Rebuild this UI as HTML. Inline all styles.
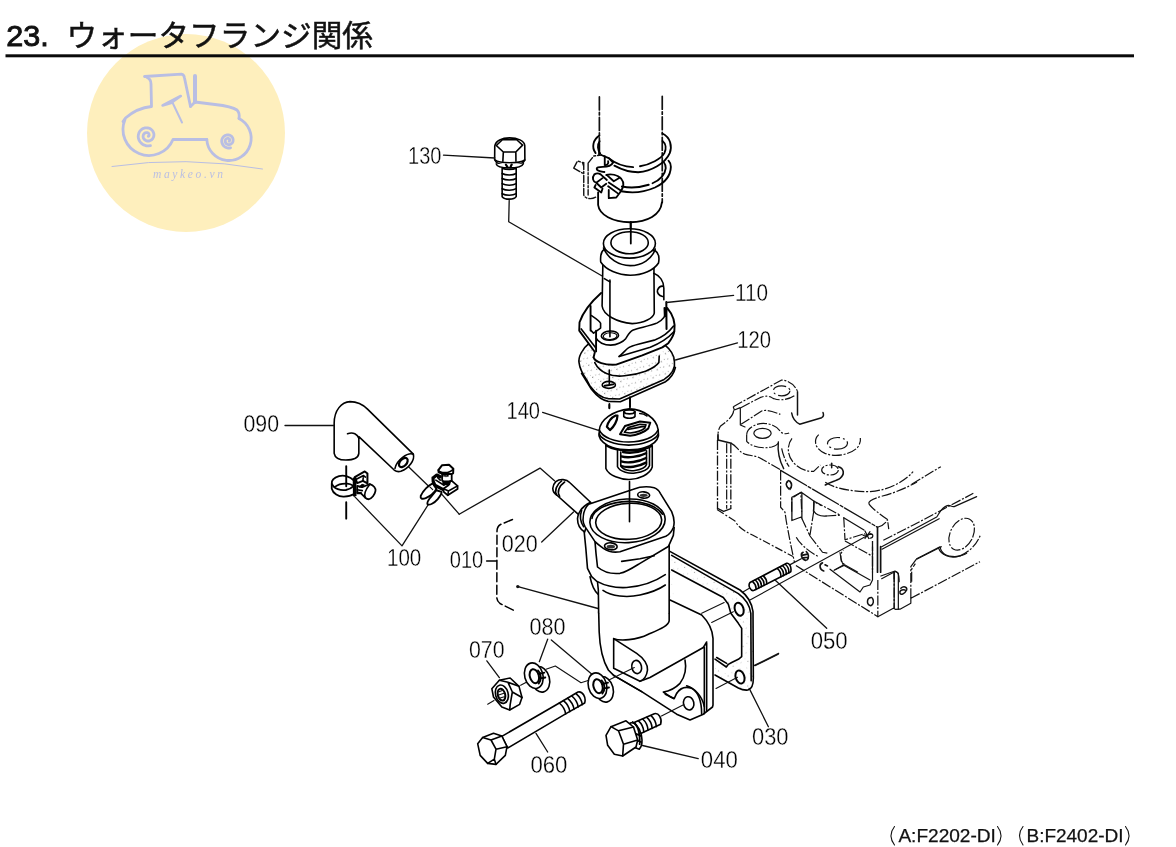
<!DOCTYPE html>
<html lang="ja"><head><meta charset="utf-8"><title>23. ウォータフランジ関係</title>
<style>
html,body{margin:0;padding:0;background:#fff}
body{width:1176px;height:847px;overflow:hidden;position:relative;font-family:"Liberation Sans",sans-serif}
svg{position:absolute;left:0;top:0;display:block;will-change:transform}
text{font-family:"Liberation Sans",sans-serif}
.lb text{font-size:23.5px;fill:#000;stroke:#fff;stroke-width:.3px}
.ld{fill:none;stroke:#111;stroke-width:1.3;stroke-linecap:round;stroke-linejoin:round}
.p{fill:none;stroke:#000;stroke-width:1.6;stroke-linecap:round;stroke-linejoin:round}
.pf{fill:#fff;stroke:#000;stroke-width:1.6;stroke-linecap:round;stroke-linejoin:round}
.t{fill:none;stroke:#111;stroke-width:1.1;stroke-linecap:round;stroke-linejoin:round}
.ph{fill:none;stroke:#111;stroke-width:1.2;stroke-linecap:butt;stroke-linejoin:round;stroke-dasharray:10 1.7 2 1.7}
.phs{fill:none;stroke:#111;stroke-width:1.2;stroke-linecap:round;stroke-linejoin:round}
.z *{vector-effect:non-scaling-stroke}
.w18 .p,.w18 .pf{stroke-width:1.85}
.w18 .t{stroke-width:1.4}
</style></head>
<body>
<svg width="1176" height="847" viewBox="0 0 1176 847" role="img" aria-label="23. ウォータフランジ関係">
<!-- 00_base -->
<rect x="0" y="0" width="1176" height="847" fill="#fff"/>
<!-- watermark -->
<circle cx="186" cy="133" r="99" fill="#FEEFBD"/>
<g fill="none" stroke="#B9BEE3" stroke-width="2.8" stroke-linecap="round" stroke-linejoin="round">
 <path d="M144.5 76.5 L181.5 74.2 Q184 74.5 184.5 78 L190.5 106.5"/>
 <path d="M147 77.5 Q151 79 151 84 L151.5 106.5 Q137 108 125.5 118 L123 121.5"/>
 <path d="M195 76 L195 102" stroke-width="4"/>
 <path d="M190.5 106.5 L195 102 L215 104.5 Q232 106.5 237 110 Q240 113 239 118.5"/>
 <path d="M125 119.5 A26 26 0 1 0 173 139.5 L206.8 139.5"/>
 <path d="M206.8 139.5 A22.2 22.2 0 1 0 239 118.5"/>
 <path d="M162.6 105.5 L180.8 96 L171 103 Z" stroke-width="2.6"/>
 <path d="M172 101.5 L182 122.5" stroke-width="2"/>
 <path d="M148.3 136.3 L148.5 136.2 L148.8 135.9 L149.0 135.7 L149.1 135.3 L149.1 134.9 L149.1 134.5 L148.9 134.0 L148.7 133.6 L148.3 133.2 L147.9 132.9 L147.3 132.7 L146.7 132.6 L146.1 132.6 L145.4 132.8 L144.8 133.1 L144.2 133.6 L143.7 134.2 L143.4 134.9 L143.2 135.6 L143.1 136.5 L143.2 137.4 L143.5 138.2 L144.0 139.0 L144.7 139.8 L145.5 140.3 L146.4 140.8 L147.5 141.0 L148.6 141.0 L149.7 140.8 L150.7 140.3 L151.7 139.7 L152.6 138.8 L153.2 137.7 L153.7 136.5 L153.9 135.3 L153.9 133.9 L153.5 132.6 L152.9 131.3 L152.1 130.2 L151.0 129.2 L149.7 128.4 L148.3 128.0 L146.7 127.8 L145.1 127.9 L143.6 128.3 L142.1 129.1 L140.8 130.1 L139.7 131.4 L138.9 133.0 L138.4 134.7 L138.2 136.5 L138.4 138.3 L139.0 140.0 L139.9 141.7 L141.2 143.2 L142.7 144.4 L144.5 145.2 L146.4 145.8 L148.5 145.9 L150.5 145.6"/>
 <path d="M229.1 141.2 L229.3 141.1 L229.5 140.9 L229.6 140.6 L229.7 140.4 L229.7 140.0 L229.7 139.7 L229.6 139.4 L229.4 139.1 L229.1 138.8 L228.7 138.5 L228.3 138.4 L227.9 138.3 L227.4 138.4 L226.9 138.5 L226.4 138.7 L226.0 139.1 L225.6 139.5 L225.4 140.0 L225.2 140.6 L225.2 141.3 L225.3 141.9 L225.5 142.6 L225.9 143.1 L226.3 143.7 L227.0 144.1 L227.7 144.4 L228.4 144.6 L229.2 144.6 L230.0 144.4 L230.8 144.1 L231.5 143.6 L232.2 142.9 L232.7 142.2 L233.0 141.3 L233.1 140.3 L233.1 139.4 L232.9 138.4 L232.4 137.5 L231.8 136.6 L231.0 135.9 L230.1 135.4 L229.0 135.0 L227.9 134.9 L226.7 135.0 L225.6 135.3 L224.5 135.9 L223.6 136.6 L222.8 137.6 L222.2 138.7 L221.8 139.9 L221.7 141.2 L221.9 142.5 L222.3 143.8 L223.0 145.0 L223.9 146.1 L225.0 146.9 L226.3 147.6 L227.7 148.0 L229.2 148.0 L230.6 147.8"/>
 <path d="M112 166.5 Q185 155.500 262.500 169" stroke-width="1"/>
</g>
<text x="153" y="178" font-family="Liberation Serif, serif" font-style="italic" font-size="11.500" fill="#B9BEE3" textLength="70" lengthAdjust="spacing" style="font-family:'Liberation Serif',serif">maykeo.vn</text>
<!-- title -->
<text x="6.200" y="45.900" font-size="30" fill="#111" stroke="#111" stroke-width=".9" textLength="42.500" lengthAdjust="spacingAndGlyphs">23.</text>
<text x="66.500" y="45.600" font-size="30" fill="#111" stroke="#111" stroke-width=".5" textLength="306.500" lengthAdjust="spacingAndGlyphs" style="font-family:'Liberation Sans','Noto Sans CJK JP',sans-serif">ウォータフランジ関係</text>
<rect x="5.500" y="54.300" width="1128.500" height="3" fill="#0a0a0a"/>
<!-- bottom text -->
<g fill="#111" stroke="#111" stroke-width=".25">
<text x="898.400" y="841.800" font-size="18" textLength="97.500" lengthAdjust="spacingAndGlyphs">A:F2202-DI</text>
<text x="1026.500" y="841.800" font-size="18" textLength="97" lengthAdjust="spacingAndGlyphs">B:F2402-DI</text>
</g>
<g fill="none" stroke="#111" stroke-width="1.1" stroke-linecap="round">
<path d="M894.5 826.5 Q887.5 835.5 894.5 845"/>
<path d="M997.5 826.5 Q1004.5 835.5 997.5 845"/>
<path d="M1023 826.5 Q1016 835.5 1023 845"/>
<path d="M1125.500 826.500 Q1132.500 835.500 1125.500 845"/>
</g>

<!-- 80_engine -->
<!-- E1: origin (705,370) scale 6 -->
<g class="z" transform="translate(705,370) scale(0.16667)">
 <path class="ph" d="M170 220 L460 60 C500 62 540 90 555 128"/>
 <path class="phs" style="stroke-width:1.5" d="M555 130 L555 270 M520 258 C525 290 540 310 568 325 L700 286 C712 280 712 265 708 255"/>
 <ellipse class="ph" cx="460" cy="125" rx="50" ry="30" style="stroke-dasharray:14 3 2 3"/>
 <path class="ph" d="M392 160 C420 185 490 188 542 150 M215 226 L330 166 C360 152 390 155 412 172"/>
 <path class="phs" d="M170 222 L176 240 L212 226 L212 330 L240 342"/>
 <path class="ph" d="M216 326 L340 246 C370 236 410 250 452 266"/>
 <path class="ph" d="M172 242 C170 270 150 295 92 338 C80 355 76 380 78 420"/>
 <path class="phs" style="stroke-width:1.500" d="M78 385 L78 420 L158 440"/>
 <path class="ph" style="stroke-width:1.3" d="M75 420 L75 832 M155 440 L155 832"/>
 <path class="ph" d="M130 440 L130 832"/>
 <path class="phs" d="M75 830 L112 848 L155 832"/>
 <path class="ph" d="M158 440 C190 455 200 490 240 505 C270 515 300 512 330 528 L455 600"/>
 <ellipse class="phs" cx="345" cy="380" rx="52" ry="30"/>
 <path class="ph" d="M250 388 C250 350 300 322 350 320 C400 322 430 340 450 365 C460 380 480 388 505 378"/>
 <path class="ph" d="M250 388 L250 428 C280 460 340 475 400 462 C425 455 440 445 442 430"/>
 <path class="phs" style="stroke-width:1.400" d="M440 432 C435 480 445 540 472 592"/>
 <path class="ph" d="M460 470 C470 520 490 560 505 580"/>
 <ellipse class="ph" cx="795" cy="440" rx="60" ry="35" style="stroke-dasharray:16 3 2 3"/>
 <path class="ph" d="M682 388 C650 420 655 470 720 500 C780 525 870 510 915 465 C930 445 935 425 932 408"/>
 <path class="ph" d="M522 410 C490 450 490 520 540 565 C575 598 620 612 652 608 L692 570"/>
 <ellipse class="ph" cx="750" cy="600" rx="50" ry="30"/>
 <path class="phs" style="stroke-width:1.500" d="M760 560 L760 586"/>
 <path class="phs" style="stroke-width:1.600" d="M800 580 C835 590 840 625 810 650 C790 665 750 672 722 690"/>
   <path class="phs" d="M497 670 C480 680 485 705 510 712 M505 665 C520 680 520 700 510 712"/>
 <path class="ph" d="M520 850 L520 770 L575 735 L580 850 M650 850 L655 790 L700 815"/>
</g>
<path class="ph" style="stroke-dasharray:8 2 2 2" d="M717 509.500 L735 521 C738 526 741 529.500 752.500 535 L793 556.500"/>
<!-- E2: origin (770,466) scale 8 -->
<g class="z" transform="translate(770,466) scale(0.125)">
 <path class="phs" style="stroke-width:1.300;stroke-dasharray:30 2 3 2" d="M85 35 L860 490"/>
 <path class="ph" d="M85 35 L85 330 L120 370 L130 440 L160 600 L185 720 L196 772"/>
 <path class="phs" d="M150 115 C125 125 125 160 150 185 M160 120 C180 140 178 170 160 188"/>
 <path class="phs" style="stroke-width:1.300" d="M250 210 L175 250 L175 436 L255 406 M255 215 L255 420 M250 210 L350 280 L350 360 C370 395 420 402 450 400"/>
 <path class="ph" d="M350 280 L560 392 M450 400 L560 394 M255 420 L320 560 M350 362 L320 552 M590 412 L600 590 L760 540"/>
 <path class="phs" style="stroke-width:1.300" d="M590 414 L752 512"/>
 <path class="ph" d="M600 600 L820 722 M320 560 L420 690 L472 700 M210 570 C230 610 300 680 382 722 M560 690 L570 760 L600 792"/>
 <path class="phs" d="M600 792 L700 848 M520 830 L600 792"/>
 <path class="ph" style="stroke-width:1.300" d="M820 600 L820 850"/>
 <path class="phs" style="stroke-width:1.700" d="M860 490 L860 850 M885 645 L885 850"/>
 <path class="phs" d="M760 520 L790 580 M745 555 L815 545 M760 580 L800 525 M800 540 C830 540 830 575 800 578"/>
 <path class="phs" style="stroke-width:1.600" d="M265 690 C240 700 250 745 285 755 M255 715 L300 705 M262 735 L305 730 M290 685 C310 700 315 735 295 752"/>
 <path class="phs" style="stroke-width:1.600" d="M420 775 C390 785 395 830 430 840 M440 790 L460 800"/>
 
 <path class="phs" style="stroke-width:1.300" d="M150 795 L250 742"/>
 <path class="ph" d="M860 490 C900 480 930 455 940 430 L950 505 M790 298 C800 330 900 400 940 428"/>
 <path class="ph" d="M790 298 C790 275 830 262 900 240 C1000 215 1100 170 1176 128"/>
 <path class="ph" d="M442 130 C520 180 640 205 800 205 C950 195 1080 120 1145 45"/>
</g>
<!-- E3: origin (850,440) scale 6 -->
<g class="z" transform="translate(850,440) scale(0.16667)">
 <path class="ph" d="M370 265 L545 160"/>
 <path class="ph" d="M200 602 L380 510 L740 320"/>
 <path class="phs" d="M190 640 L520 462 C535 440 555 395 590 392 C605 392 608 402 625 400 L760 340 M192 655 L535 472"/>
 <ellipse class="ph" cx="670" cy="565" rx="68" ry="102" transform="rotate(28 670 565)"/>
 <path class="phs" d="M530 645 C545 690 600 715 660 695 M400 716 L530 650 L548 640"/>
 <path class="ph" d="M660 695 C720 670 765 620 782 570"/>
 <path class="ph" d="M370 850 L370 775 L392 742"/>
 <path class="phs" d="M190 832 L268 790 C285 788 295 800 295 850 M265 792 L265 832"/>
</g>
<!-- E4: origin (790,540) scale 6 -->
<g class="z" transform="translate(790,540) scale(0.16667)">
 <path class="ph" d="M527 240 L527 460 L30 150"/>
 <path class="phs" d="M527 460 L620 410 L632 416 L660 415 L725 380 L725 350"/>
 <path class="ph" d="M725 350 L1140 130 M725 350 L725 160 L760 112"/>
 <path class="phs" d="M760 112 L900 40 C905 70 930 100 990 100 C1020 98 1045 90 1060 80"/>
 <path class="phs" d="M545 216 L630 186 L650 200 L650 415 M625 192 L625 410"/>
 <path class="ph" d="M625 192 L625 410"/>
 <path class="phs" style="stroke-width:1.500" d="M665 290 C680 275 705 280 700 300 C690 320 665 335 660 320 C655 305 670 295 690 300"/>
 <path class="phs" style="stroke-width:1.500" d="M490 345 C460 345 455 385 485 395 M495 350 C505 365 500 385 488 392"/>
 <path class="phs" d="M240 175 L420 312 L440 282 L480 270 L495 240 L495 40 M265 182 L320 150 L480 240"/>
 <path class="ph" d="M320 150 C300 110 300 80 320 60"/>
</g>

<!-- 10_hose -->
<g class="z w18" transform="translate(565,125) scale(0.125)">
 <!-- hose phantom lines -->
 <path class="t" style="stroke-width:1.7;stroke-dasharray:13 2.500 2.500 2.500" d="M275 -225 L275 235"/>
 <path class="t" style="stroke-width:1.7;stroke-dasharray:13 2.500 2.500 2.500" d="M778 -230 L778 620"/>
 <path class="p" d="M273 150 L273 235 M265 540 L265 640 C275 720 380 775 520 778 C660 775 765 720 775 620"/>
 <path class="p" d="M525 780 L525 835"/>
 <!-- upper wire -->
 <path class="p" d="M350 265 C400 305 470 335 545 337 M600 330 C680 318 770 270 795 225 C812 190 808 150 780 128"/>
 <path class="p" d="M395 325 C450 355 520 378 585 378 C690 370 800 310 838 225 C858 170 845 100 780 68"/>
 <path class="p" d="M275 85 C225 115 210 180 245 225 M277 130 C255 160 262 200 282 228"/>
 <!-- lower wire -->
 <path class="p" d="M455 492 C520 505 600 500 670 478 M700 466 C760 440 800 400 806 345 C806 325 800 310 792 300"/>
 <path class="p" d="M450 530 C540 548 640 535 720 500 C800 462 845 400 847 335 C846 310 838 295 828 285"/>
 <!-- screw assembly -->
 <path class="t" style="stroke-dasharray:7 2 2 2" d="M70 345 L100 288 L140 300 L150 330 M70 345 L140 385 M150 300 L150 560 C160 590 210 600 250 575 M185 310 L185 560 M185 305 L230 248 L290 240"/>
 <path class="p" d="M290 240 L350 265 L385 300 C370 330 330 335 300 335 C270 335 250 340 255 355 C260 370 290 372 315 376"/>
 <path class="p" d="M318 250 L318 320 C340 325 350 305 345 290"/>
 <path class="p" d="M235 395 C215 420 222 455 250 462 L300 425 M235 395 C250 385 270 385 285 395 L335 440 M250 462 L290 500 L330 470"/>
 <path class="p" d="M330 400 C370 390 420 400 450 430 C475 460 470 500 440 540 L410 580 L350 585 M340 405 L390 450 L440 420 M350 460 L440 520 M345 490 L420 545 M350 520 L350 580 M235 500 L290 540 L300 510 M235 500 L245 480"/>
</g>

<!-- 11_bolt130 -->
<g class="z" transform="translate(420,130) scale(0.11905)">
 <path class="pf" d="M628 135 C635 90 690 67 752 66 C820 66 876 90 880 130 L881 252 C870 285 810 297 752 297 C700 297 640 285 627 250 Z"/>
 <path class="p" d="M641 130 L692 82 L810 80 L862 127 L805 185 L700 185 Z M700 185 L696 262 M805 185 L806 262"/>
 <path class="p" d="M629 250 C650 268 700 275 752 275 C810 275 860 266 880 252"/>
 <path class="pf" d="M640 285 C650 330 850 330 868 283"/>
 <path class="pf" d="M690 322 L690 560 C712 588 790 588 808 560 L808 322 C780 335 720 335 690 322Z"/>
 <path class="p" d="M690 365 C720 383 780 383 808 365 M690 407 C720 425 780 425 808 407 M690 450 C720 468 780 468 808 450 M690 493 C720 511 780 511 808 493 M690 535 C720 553 780 553 808 535"/>
 <path class="p" style="stroke-width:2.2" d="M722 292 L735 312 M770 290 L760 312"/>
</g>
<path class="ld" d="M443.500 155.200 L494.800 158"/>
<path class="ld" d="M509.200 200.500 L508.700 221.700 L603 276.500"/>

<!-- 20_flange110 -->
<!-- gasket 120 -->
<g class="z" transform="translate(565,270) scale(0.16529)">
 <path class="pf" d="M150 440 C100 480 80 530 85 560 C88 590 100 620 133 667 L150 700 C180 740 215 775 262 778 L330 780 L600 662 C650 630 668 590 662 555 C662 530 650 490 600 450 Z"/>
 <path fill="url(#stip6b)" d="M150 440 C100 480 80 530 85 560 C88 590 100 620 133 667 L150 700 C180 740 215 775 262 778 L330 780 L600 662 C650 630 668 590 662 555 C662 530 650 490 600 450 Z"/>
 <path class="p" d="M100 625 L160 722 C190 760 220 790 262 795 L335 797 L605 678 C640 655 660 625 668 590"/>
 <path class="p" d="M180 560 C210 620 280 650 360 640 C450 632 540 600 568 560 L570 520"/>
 <ellipse class="p" cx="265" cy="695" rx="40" ry="21"/>
 <path class="p" style="stroke-width:2" d="M240 700 L292 692"/>
 <path class="p" d="M268 605 L268 688"/>
 <path class="p" d="M268 815 L268 835 M393 770 L393 830"/>
</g>
<!-- flange 110 -->
<g class="z" transform="translate(572,296) scale(0.10034)">
 <!-- plate silhouette -->
 <path fill="#fff" d="M270 -40 C190 60 110 160 75 260 L72 345 L228 558 L215 612 C230 660 330 692 440 684 L700 592 L900 512 L960 470 L1020 350 C1030 280 1010 190 950 120 L940 -40 Z"/>
 <path class="p" style="stroke-width:1.9" d="M290 -30 C200 50 110 160 75 262 L72 345 L228 558 L215 612 C230 660 330 692 440 684 L700 592 L900 512 L960 470 C990 430 1015 390 1020 350 C1030 280 1010 190 950 120"/>
 <path class="p" d="M92 328 L240 520"/>
 <path class="p" style="stroke-width:1.9" d="M185 100 L185 345 M240 345 L240 552"/>
 <path class="p" d="M195 195 C240 225 275 250 285 272 L285 320 L215 370 L190 345"/>
 <path class="p" d="M240 420 C260 460 320 490 385 490 C450 488 510 455 535 425 C555 395 570 355 610 338 C680 315 790 295 850 268 C905 240 940 190 945 130"/>
 <path class="p" d="M470 602 C510 570 540 530 565 515 C590 498 620 490 660 480 L820 440 C880 420 960 370 1012 300"/>
 <path class="p" d="M470 602 L780 510 C860 480 950 430 1020 352"/>
 <path class="p" style="stroke-width:2" d="M940 60 L942 330 M922 120 L925 200"/>
 <!-- cylinder -->
 <path fill="#fff" d="M308 -350 L300 100 C310 190 450 262 600 275 C720 270 810 220 820 170 L816 -350 Z"/>
 <path class="p" d="M308 -350 L300 100 C310 190 450 262 600 275 C720 270 810 220 820 170 L816 -350"/>
 <path class="p" d="M378 -160 L378 350"/>
 <ellipse class="pf" cx="378" cy="395" rx="86" ry="46" transform="rotate(-3 378 395)"/>
 <ellipse class="p" cx="380" cy="400" rx="68" ry="34" transform="rotate(-3 380 400)" style="stroke-width:1.100"/>
 <path class="p" d="M378 350 L378 405"/>
</g>
<g class="z" transform="translate(565,270) scale(0.16529)">
 <path class="p" d="M238 52 L272 72"/>
 <!-- right boss -->
 <path class="p" d="M537 20 C575 35 598 70 598 110 L598 180 M560 120 C555 135 565 155 590 160 M560 120 C570 100 585 95 597 100"/>
</g>
<!-- top of 110 -->
<path class="pf" d="M603.800 249.700 C600.500 252 600.300 257 600.700 262 C606 270 618 275.200 630.200 275.200 C643 275.200 654 270 658.500 263 C659.500 258 659 253 655 250.500 Z"/>
<path class="p" d="M603.500 248 C608 259 619 265.600 630.200 265.600 C642 265.600 652 259 655.300 249"/>
<ellipse class="pf" cx="629.400" cy="243.400" rx="26" ry="14.700"/>
<ellipse class="p" cx="629.600" cy="242.700" rx="18.700" ry="11"/>
<path class="p" style="stroke-width:1.8" d="M630.800 222 L630.800 243.500"/>
<path class="ld" d="M666.500 302.500 L733.600 295.300"/>
<path class="ld" d="M675.500 360 L737.500 342.800"/>

<!-- 30_thermo140 -->
<g class="z" transform="translate(580,392) scale(0.125)">
 <!-- body -->
 <path class="pf" d="M207 420 L207 612 C230 670 330 702 395 700 C470 698 560 660 578 600 L578 430 Z"/>
 <path class="p" d="M300 462 L300 598 C320 640 400 655 440 648 C500 640 545 620 556 590 L556 450"/>
 <path class="p" d="M326 480 L326 590 C345 625 400 635 440 628 C490 620 525 605 532 580 L532 470"/>
 <path class="p" style="stroke-width:2.4" d="M330 515 C380 530 470 520 528 490 M330 555 C380 572 470 560 528 528 M332 592 C380 610 470 598 528 565 M345 480 C390 490 460 484 520 462"/>
 <!-- rim -->
 <path class="pf" d="M155 300 L152 350 C160 385 200 425 260 445 C330 468 450 470 520 445 C580 425 620 390 628 350 L625 300 Z"/>
 <path class="p" d="M153 335 C175 385 280 425 390 425 C500 425 605 385 627 335"/>
 <path class="p" d="M207 428 C250 455 330 470 395 470 C460 470 540 455 578 432"/>
 <!-- dome -->
 <path class="pf" d="M155 305 C160 225 260 150 395 135 C505 140 615 210 625 302 C600 365 500 400 390 400 C280 400 180 365 155 305 Z"/>
 <!-- pin -->
 <path class="pf" d="M350 158 L350 196 C365 215 425 215 440 196 L440 158 C430 140 360 140 350 158 Z"/>
 <path class="p" d="M350 160 C365 180 425 180 440 160"/>
 <!-- slot left -->
 <path class="p" style="stroke-width:2.2" d="M215 278 C225 240 250 205 285 188 L300 188 C300 230 270 280 240 305 Z"/>
 <!-- window right -->
 <path class="p" style="stroke-width:2" d="M320 338 L360 272 L480 236 L562 246 L546 292 C520 320 450 345 400 350 Z"/>
 <path class="p" d="M355 322 L385 285 L480 258 L528 262 L518 290 C490 312 440 325 400 328 Z M385 300 C430 290 470 280 520 275"/>
 <path class="p" d="M478 172 C500 172 520 180 535 192"/>
</g>
<path class="p" style="stroke-width:1.8" d="M630 397.500 L630 407"/>
<path class="p" style="stroke-width:1.8" d="M609.400 404 L609.400 408.300"/>
<path class="ld" d="M542.600 412.300 L598.500 430.400"/>

<!-- 35_gasket030 -->
<defs>
<pattern id="stip" width="11" height="11" patternUnits="userSpaceOnUse" patternTransform="scale(6) rotate(27)">
 <circle cx="1.500" cy="2" r=".5" fill="#777"/><circle cx="7" cy="6.500" r=".45" fill="#888"/><circle cx="8.500" cy="1.200" r=".35" fill="#999"/><circle cx="3.500" cy="8.500" r=".4" fill="#999"/>
</pattern>
<pattern id="stip1" width="9" height="9" patternUnits="userSpaceOnUse" patternTransform="rotate(27)">
 <circle cx="1.500" cy="2" r=".55" fill="#555"/><circle cx="6" cy="5.500" r=".5" fill="#666"/><circle cx="7.500" cy="1.200" r=".4" fill="#777"/><circle cx="3" cy="7.500" r=".45" fill="#777"/>
</pattern>
<pattern id="stip6b" width="9" height="9" patternUnits="userSpaceOnUse" patternTransform="scale(6.05) rotate(27)">
 <circle cx="1.500" cy="2" r=".55" fill="#555"/><circle cx="6" cy="5.500" r=".5" fill="#666"/><circle cx="7.500" cy="1.200" r=".4" fill="#777"/><circle cx="3" cy="7.500" r=".45" fill="#777"/>
</pattern>
</defs>
<g class="z" transform="translate(660,540) scale(0.16667)">
 <path fill="#fff" d="M40 58 L480 300 C520 330 550 370 558 430 L560 830 C560 870 545 895 520 905 L470 890 L330 810 L330 560 L40 400 Z"/>
 <path fill="url(#stip)" d="M40 58 L480 300 C520 330 550 370 558 430 L560 830 C560 870 545 895 520 905 L470 890 L330 810 L330 560 L40 400 Z"/>
 <path class="p" d="M40 58 L480 300 C520 330 550 370 558 430 L560 830 C560 870 548 895 528 900 C510 902 490 898 470 888 L330 810"/>
 <path class="p" d="M70 92 L470 322 C510 350 538 390 545 440 L547 845"/>
 <path fill="#fff" d="M70 180 L380 345 L410 385 L425 440 L470 500 L490 530 L490 700 L470 716 L430 735 L410 746 L398 762 L330 715 L100 590 Z"/>
 <path class="p" d="M70 180 L380 345 L410 385 L425 440 L470 500 L490 530 L490 700 L470 716 L430 735 L410 746 L398 762 L330 715"/>
 <ellipse class="pf" style="stroke-width:2" cx="475" cy="415" rx="26" ry="40" transform="rotate(-18 475 415)"/>
 <ellipse class="pf" style="stroke-width:2" cx="480" cy="822" rx="26" ry="40" transform="rotate(-18 480 822)"/>
 <path class="p" d="M340 705 L400 740"/>
 <path class="t" d="M250 440 L385 375 M310 495 L440 430 M570 755 L710 685"/>
</g>

<!-- 85_leaders -->
<path class="ld" d="M459.200 514.200 L540 468.100 L554.500 480.800"/>
<path class="ld" d="M541.700 542 L573.500 512"/>
<path class="ld" d="M749.200 688.400 L768.400 726.700"/>
<path class="ld" d="M754.500 665.400 L778.600 653.400"/>
<path class="ld" d="M518 586.700 L598 608.500"/>
<circle cx="517.800" cy="586.600" r="1.700" fill="#111"/>
<!-- 010 bracket -->
<path class="p" style="stroke-width:1.500;stroke-dasharray:9 3.500" d="M512.500 519.500 L500.500 524.500 C498 526 497 528 497 531 L496.800 596 C496.500 599 497.500 601.500 500 603.500 L514 610.500"/>
<path class="p" d="M486.700 561 L496.400 561"/>

<!-- 40_body010 -->
<!-- lower body: zoom origin (570,590) scale 6 -->
<g class="z" transform="translate(570,590) scale(0.16667)">
 <!-- right plate + foot silhouette fill -->
 <path fill="#fff" d="M596 58 L610 65 L790 150 C830 190 855 240 858 290 L858 690 L855 702 L800 745 L720 780 L640 745 L430 610 L262 512 L262 292 L596 190 Z"/>
 <path class="p" d="M596 58 L610 65 L790 150 C830 190 855 240 858 290 L858 690 L855 702 L800 745 L720 780 L640 745 L430 610 L262 512"/>
 <path class="p" d="M820 318 L820 728 M806 345 L806 742 M800 345 L820 312"/>
 <path class="p" d="M690 420 C700 470 690 520 660 560 C630 590 590 608 560 612 L600 640 L625 652 L640 620"/>
 <path class="p" d="M572 626 L622 650"/>
 <path class="p" d="M640 620 C660 590 690 575 730 590 C765 610 790 660 790 745"/>
 <path class="p" d="M700 575 C750 590 795 640 806 700"/>
 <ellipse class="pf" cx="712" cy="680" rx="31" ry="40" transform="rotate(-12 712 680)"/>
 <path class="p" d="M420 548 L480 525 L800 345"/>
 <!-- cylinder -->
 <path fill="#fff" d="M172 130 L175 250 C178 330 195 420 230 480 L262 512 L262 292 C300 306 400 302 470 266 C540 235 590 215 595 185 L595 130 Z"/>
 <path class="p" d="M172 130 L175 250 C178 330 195 420 230 480 L262 512 M262 292 C300 306 400 302 470 266 C540 235 590 215 595 185 L595 130"/>
 <path class="p" d="M262 512 L430 610"/>
 <!-- boss -->
 <path class="pf" d="M262 292 L400 380 C445 410 468 450 465 480 C460 520 440 540 420 548 L262 470 Z"/>
 <ellipse class="pf" cx="400" cy="462" rx="29" ry="40" transform="rotate(-12 400 462)"/>
</g>
<!-- upper body: zoom origin (540,470) scale 6 -->
<g class="z" transform="translate(540,470) scale(0.16667)">
 <!-- pipe 020 -->
 <path class="pf" d="M178 75 L305 195 L232 268 L100 150 C70 130 70 95 95 70 C120 50 160 55 178 75 Z"/>
 <path class="p" d="M100 150 C85 125 100 85 130 65 M118 158 C100 130 115 95 148 72"/>
 <!-- neck / underside -->
 <path fill="#fff" d="M265 370 L275 470 L285 590 L310 640 L345 672 L350 720 L352 860 L775 860 L775 455 L805 345 Z"/>
 <path class="p" d="M265 370 L275 470 L285 590 L310 640 L345 672 L350 720 L352 860 M775 860 L775 455"/>
 <path class="p" d="M300 640 C310 690 325 725 348 745"/>
 <path class="p" d="M345 670 C400 700 460 708 520 705 C600 700 690 670 752 628"/>
 <path class="p" d="M378 722 C430 758 520 768 600 750 C670 735 720 712 752 690"/>
 <path class="p" d="M330 430 L336 500 L345 582 C380 612 430 625 480 620 C520 612 560 585 600 560 L775 456"/>
 <path class="p" d="M490 548 L600 532 L685 515"/>
 <path class="p" d="M805 345 L800 392 L772 455"/>
 <!-- pipe joint boss -->
 <path class="pf" d="M300 195 C260 215 230 250 225 292 C225 325 240 355 268 372 L290 300 Z"/>
 <path class="p" d="M250 240 C240 270 240 310 262 340"/>
 <!-- flange top face -->
 <path class="pf" d="M258 300 C258 260 270 225 292 205 L560 115 C600 100 650 98 685 106 C705 112 715 125 722 140 L790 250 C805 285 808 320 800 345 C790 370 775 388 755 398 L480 490 C450 496 410 490 380 470 C360 455 345 445 330 430 L270 340 C262 325 258 312 258 300 Z"/>
 <ellipse class="p" cx="525" cy="305" rx="226" ry="131" transform="rotate(-3 525 305)"/>
 <path class="p" d="M312 290 C320 235 420 190 530 188 C620 188 700 215 735 265"/>
 <ellipse class="p" cx="532" cy="308" rx="198" ry="108" transform="rotate(-3 532 308)"/>
 <ellipse class="p" cx="622" cy="150" rx="36" ry="19" transform="rotate(5 622 150)"/>
 <ellipse cx="622" cy="152" rx="24" ry="10" fill="#333"/>
 <ellipse class="p" cx="425" cy="458" rx="38" ry="21" transform="rotate(5 425 458)"/>
 <ellipse cx="425" cy="460" rx="25" ry="11" fill="#333"/>
 <path class="p" d="M537 70 L537 310"/>
</g>

<!-- 50_stud050 -->
<g class="z" transform="translate(660,540) scale(0.16667)">
 <path class="pf" d="M540 255 L760 140 C775 135 790 160 785 190 L565 302 C545 310 525 275 540 255 Z"/>
 <path class="p" d="M556 250 C570 262 578 280 576 296 M572 240 C586 252 594 270 592 288 M588 232 C602 244 610 262 608 280 M604 224 C618 236 626 254 624 272 M620 215 C634 228 642 246 640 264"/>
 <path class="p" d="M705 172 C719 184 727 202 725 222 M721 164 C735 176 743 194 741 214 M737 156 C751 168 759 186 757 206 M753 147 C767 159 775 177 773 197"/>
 <path class="t" d="M500 310 L536 290 M540 360 L1250 -30"/>
</g>
<path class="ld" d="M775 580 L826.700 628.300"/>
<path class="t" d="M716 688.500 L737.500 677.300"/>

<!-- 60_hose090 -->
<g class="z" transform="translate(310,390) scale(0.16667)">
 <!-- leaders under -->
 <path class="ld" d="M585 455 L735 600 M790 625 L895 745 M268 640 L552 935 L708 690"/>
 <!-- hose -->
 <path class="pf" d="M145 380 L145 200 C145 120 190 72 240 70 C290 70 320 90 345 115 L620 385 C630 420 595 468 545 488 C530 492 515 488 505 480 L293 280 L293 380 C290 410 255 420 215 420 C180 420 150 410 145 380 Z"/>
 <path class="p" d="M293 290 C285 265 260 250 225 262"/>
 <path class="p" d="M620 385 C585 372 520 420 510 470"/>
 <ellipse class="p" style="stroke-width:2.2" cx="560" cy="435" rx="32" ry="20" transform="rotate(-48 560 435)"/>
 <path class="ld" d="M-150 213 L142 213"/>
</g>
<g class="z" transform="translate(405,455) scale(0.06293)">
 <!-- clip loops -->
 <path class="pf" style="stroke-width:1.900" d="M440 450 C380 480 290 560 250 650 C240 690 270 710 330 685 C400 655 470 590 500 540 Z"/>
 <path class="pf" style="stroke-width:1.900" d="M400 680 C370 720 340 760 360 785 C390 800 460 770 520 700 C560 650 585 610 580 585 L500 560 Z"/>
 <path class="t" d="M395 505 L440 550"/>
 <!-- strap -->
 <path class="p" style="stroke-width:3.200" d="M445 365 C440 400 455 450 475 480 L600 545 M445 365 L505 318 L560 345"/>
 <path class="p" d="M490 400 L620 480 M520 360 L560 400"/>
 <!-- plate -->
 <path class="pf" style="stroke-width:1.800" d="M730 400 L835 490 L835 540 L680 640 L615 585 L610 535 L690 480 Z"/>
 <path class="p" d="M835 490 L690 572 L612 535 M690 572 L682 638"/>
 <!-- bolt -->
 <path class="pf" style="stroke-width:1.800" d="M590 290 L590 405 L610 420 L610 465 L705 465 L705 420 L742 400 L742 290 Z"/>
 <path class="p" style="stroke-width:1.800" d="M610 420 L705 420 M612 445 L703 445"/>
 <path class="pf" style="stroke-width:2" d="M530 240 L590 162 L700 156 L768 218 L765 290 L740 300 L600 300 L535 275 Z"/>
 <path class="p" d="M530 240 C560 290 700 300 766 225"/>
 <path class="p" d="M620 320 L622 335 M650 322 L652 340 M680 320 L682 335"/>
</g>
<g class="z" transform="translate(322,462) scale(0.06293)">
 <path class="p" style="stroke-width:1.900" d="M385 65 L385 385 M385 640 L385 900"/>
 <path class="p" style="stroke-width:1.800" d="M500 290 C450 230 350 205 270 225 C190 250 150 300 155 345 L155 425 C175 500 260 555 350 550 C420 545 470 530 500 512"/>
 <path class="p" style="stroke-width:1.800" d="M158 350 C190 430 300 458 380 445 C430 435 470 415 495 388 M205 395 C250 360 330 340 400 345 C440 350 470 360 490 372"/>
 <!-- tab -->
 <path class="pf" style="stroke-width:2" d="M520 240 L680 150 L722 182 L722 340 L650 300 L560 335 Z"/>
 <path class="p" d="M545 275 L660 215 L690 240 M650 300 L655 250"/>
 <!-- screw -->
 <path class="pf" style="stroke-width:1.800" d="M560 380 L640 400 L760 350 C820 370 860 420 850 460 C840 520 790 580 745 592 C720 592 700 580 690 570 L620 500 L560 500 Z"/>
 <path class="p" d="M690 570 C660 520 690 440 760 352 M600 395 L640 360 M625 400 L665 365 M560 440 L640 455 M560 480 L625 495"/>
 <!-- bar -->
 <path fill="#000" d="M488 250 L545 235 L548 540 L492 548 Z"/>
</g>

<!-- 70_fasteners -->
<g class="z" transform="translate(466,640) scale(0.16667)">
 <!-- axis + leaders -->
 <path class="t" d="M130 385 L168 363 M328 272 L362 254 M480 176 L536 156 L690 256 L742 240 M845 246 L1010 165"/>
 <path class="ld" d="M125 125 L200 226 M490 -5 L440 130 M512 0 L752 202 M420 560 L490 672"/>
 <!-- nut 070 -->
 <path class="pf" d="M155 292 L200 242 L265 228 L318 278 L336 345 L322 386 L262 420 L215 402 L165 342 Z"/>
 <path class="p" d="M200 242 L252 254 L278 312 L265 388 L262 420 M252 254 L318 278 M278 312 L336 345"/>
 <ellipse class="p" cx="215" cy="325" rx="38" ry="56" transform="rotate(-15 215 325)"/>
 <ellipse class="p" style="stroke-width:2" cx="213" cy="328" rx="22" ry="36" transform="rotate(-15 213 328)"/>
 <path class="t" d="M198 310 L225 300 M196 330 L232 318 M200 350 L230 340"/>
 <!-- washer 1 -->
 <g id="wsh">
 <ellipse class="pf" cx="446" cy="236" rx="55" ry="78" transform="rotate(-15 446 236)"/>
 <ellipse class="pf" cx="407" cy="214" rx="55" ry="78" transform="rotate(-15 407 214)"/>
 <ellipse class="p" style="stroke-width:2" cx="410" cy="217" rx="27" ry="43" transform="rotate(-15 410 217)"/>
 <path class="p" style="stroke-width:1.800" d="M432 182 C452 200 455 240 436 262 M436 205 L470 196 M440 232 L476 225"/>
 </g>
 <!-- washer 2 -->
 <g transform="translate(382,60)">
 <ellipse class="pf" cx="446" cy="236" rx="55" ry="78" transform="rotate(-15 446 236)"/>
 <ellipse class="pf" cx="407" cy="214" rx="55" ry="78" transform="rotate(-15 407 214)"/>
 <ellipse class="p" style="stroke-width:2" cx="410" cy="217" rx="27" ry="43" transform="rotate(-15 410 217)"/>
 <path class="p" style="stroke-width:1.800" d="M432 182 C452 200 455 240 436 262 M436 205 L470 196 M440 232 L476 225"/>
 </g>
 <!-- bolt 060 -->
 <path class="pf" d="M215 578 L560 378 L672 312 C700 305 722 345 712 378 L600 442 L250 648 Z"/>
 <path class="p" d="M560 378 C580 395 595 420 598 444 M585 364 C605 381 620 406 623 430 M610 350 C630 367 645 392 648 416 M635 336 C655 353 670 378 673 402 M660 322 C680 339 695 364 698 388"/>
 <path class="pf" d="M70 622 L100 585 L165 560 L215 576 L246 640 L236 692 L180 746 L130 740 L85 692 Z"/>
 <path class="p" d="M100 585 L150 600 L180 655 L170 715 L130 740 M150 600 L215 576 M180 655 L246 640 M170 715 L180 746"/>
 <!-- bolt 040 -->
 <path class="pf" d="M1012 494 L1130 442 C1155 436 1178 468 1168 505 L1045 562 Z"/>
 <path class="p" d="M1035 485 C1053 501 1065 526 1067 551 M1060 474 C1078 490 1090 515 1092 540 M1085 464 C1103 480 1115 505 1117 530 M1110 454 C1128 470 1140 495 1142 520"/>
 <path class="pf" d="M985 498 C1010 490 1040 520 1052 570 C1060 610 1055 640 1040 655 L1000 640 Z"/>
 <path class="p" d="M1000 492 C1030 510 1045 560 1042 625 M1012 560 L1050 575 M1015 600 L1052 612" style="stroke-width:1.8"/>
 <path class="pf" d="M840 572 L870 520 L960 485 L1005 522 L1030 600 L1020 642 L940 696 L890 686 L850 632 Z"/>
 <path class="p" d="M870 520 L915 545 L945 625 L940 696 M915 545 L1005 522 M945 625 L1030 600"/>
</g>
<path class="ld" d="M642.500 745.500 L698.200 758.600"/>
<path class="t" d="M661.500 716 L684 704.500"/>

<!-- 90_labels -->
<g class="lb">
<text x="408" y="163.900" textLength="33.400" lengthAdjust="spacingAndGlyphs">130</text>
<text x="735" y="300.800" textLength="33" lengthAdjust="spacingAndGlyphs">110</text>
<text x="737.300" y="348.100" textLength="33.700" lengthAdjust="spacingAndGlyphs">120</text>
<text x="506.500" y="419.200" textLength="33.500" lengthAdjust="spacingAndGlyphs">140</text>
<text x="243.500" y="432.300" textLength="35.500" lengthAdjust="spacingAndGlyphs">090</text>
<text x="387" y="565.600" textLength="34.300" lengthAdjust="spacingAndGlyphs">100</text>
<text x="449.800" y="568.200" textLength="33.500" lengthAdjust="spacingAndGlyphs">010</text>
<text x="501.800" y="551.500" textLength="36" lengthAdjust="spacingAndGlyphs">020</text>
<text x="529.600" y="634.600" textLength="36" lengthAdjust="spacingAndGlyphs">080</text>
<text x="469" y="657.600" textLength="35.500" lengthAdjust="spacingAndGlyphs">070</text>
<text x="530.400" y="772.600" textLength="37" lengthAdjust="spacingAndGlyphs">060</text>
<text x="810.700" y="648.500" textLength="37" lengthAdjust="spacingAndGlyphs">050</text>
<text x="752" y="744.700" textLength="36.500" lengthAdjust="spacingAndGlyphs">030</text>
<text x="700.800" y="768.300" textLength="37" lengthAdjust="spacingAndGlyphs">040</text>
</g>

</svg>
</body></html>
